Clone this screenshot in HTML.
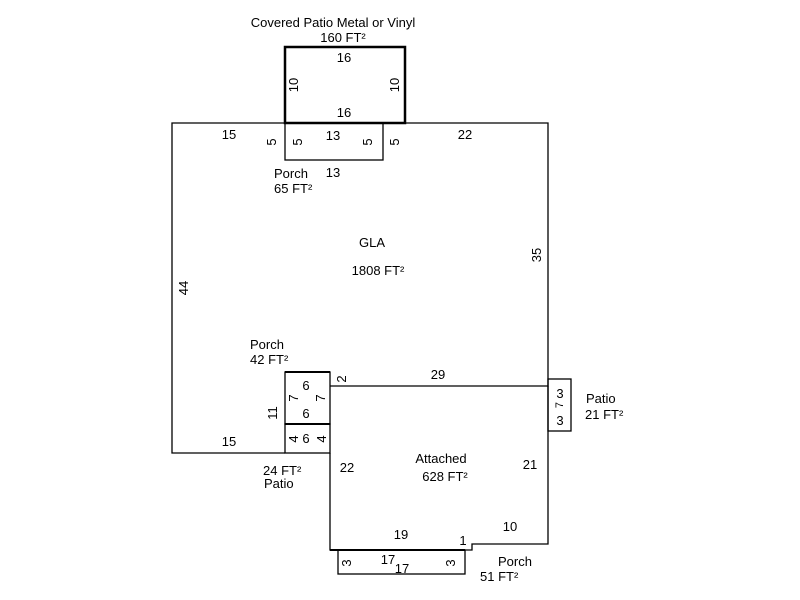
<!DOCTYPE html>
<html><head><meta charset="utf-8"><style>
html,body{margin:0;padding:0;background:#fff;}
svg{display:block;}
text{font-family:"Liberation Sans",Arial,sans-serif;font-size:13px;fill:#000;}
</style></head><body>
<svg width="800" height="600" viewBox="0 0 800 600" xmlns="http://www.w3.org/2000/svg">
<g fill="none" stroke="#000" stroke-width="1.3">
<polyline points="285,123 172,123 172,453 285,453"/>
<polyline points="405,123 548,123 548,386 330,386"/>
<rect x="285" y="123" width="98" height="37"/>
<rect x="285" y="372" width="45" height="52"/>
<rect x="285" y="424" width="45" height="29"/>
<polyline points="330,453 330,550 472,550 472,544 548,544 548,386"/>
<rect x="548" y="379" width="23" height="52"/>
<rect x="338" y="550" width="127" height="24"/>
</g>
<rect x="285" y="47" width="120" height="76" fill="none" stroke="#000" stroke-width="2.5"/>
<line x1="285" y1="372" x2="330" y2="372" stroke="#000" stroke-width="2"/>
<line x1="285" y1="424" x2="330" y2="424" stroke="#000" stroke-width="2"/>
<line x1="330" y1="550" x2="465" y2="550" stroke="#000" stroke-width="2"/>

<text x="333" y="27" text-anchor="middle">Covered Patio Metal or Vinyl</text>
<text x="343" y="42" text-anchor="middle">160 FT²</text>
<text x="344" y="62" text-anchor="middle">16</text>
<text x="344" y="117" text-anchor="middle">16</text>
<text transform="translate(298,85) rotate(-90)" text-anchor="middle">10</text>
<text transform="translate(399,85) rotate(-90)" text-anchor="middle">10</text>
<text x="229" y="139" text-anchor="middle">15</text>
<text x="465" y="139" text-anchor="middle">22</text>
<text x="333" y="140" text-anchor="middle">13</text>
<text x="333" y="177" text-anchor="middle">13</text>
<text transform="translate(276,142) rotate(-90)" text-anchor="middle">5</text>
<text transform="translate(302,142) rotate(-90)" text-anchor="middle">5</text>
<text transform="translate(372,142) rotate(-90)" text-anchor="middle">5</text>
<text transform="translate(399,142) rotate(-90)" text-anchor="middle">5</text>
<text x="274" y="178">Porch</text>
<text x="274" y="193">65 FT²</text>
<text x="372" y="247" text-anchor="middle">GLA</text>
<text x="378" y="275" text-anchor="middle">1808 FT²</text>
<text transform="translate(541,255) rotate(-90)" text-anchor="middle">35</text>
<text transform="translate(188,288) rotate(-90)" text-anchor="middle">44</text>
<text x="250" y="349">Porch</text>
<text x="250" y="364">42 FT²</text>
<text x="306" y="390" text-anchor="middle">6</text>
<text x="306" y="418" text-anchor="middle">6</text>
<text transform="translate(298,398) rotate(-90)" text-anchor="middle">7</text>
<text transform="translate(325,398) rotate(-90)" text-anchor="middle">7</text>
<text transform="translate(346,379) rotate(-90)" text-anchor="middle">2</text>
<text x="438" y="379" text-anchor="middle">29</text>
<text transform="translate(277,413) rotate(-90)" text-anchor="middle">11</text>
<text x="306" y="443" text-anchor="middle">6</text>
<text transform="translate(298,439) rotate(-90)" text-anchor="middle">4</text>
<text transform="translate(326,439) rotate(-90)" text-anchor="middle">4</text>
<text x="229" y="446" text-anchor="middle">15</text>
<text x="263" y="475">24 FT²</text>
<text x="264" y="488">Patio</text>
<text x="347" y="472" text-anchor="middle">22</text>
<text x="441" y="463" text-anchor="middle">Attached</text>
<text x="445" y="481" text-anchor="middle">628 FT²</text>
<text x="530" y="469" text-anchor="middle">21</text>
<text x="560" y="398" text-anchor="middle">3</text>
<text x="560" y="425" text-anchor="middle">3</text>
<text transform="translate(563,405) rotate(-90)" text-anchor="middle" style="font-size:11px">7</text>
<text x="586" y="403">Patio</text>
<text x="585" y="419">21 FT²</text>
<text x="401" y="539" text-anchor="middle">19</text>
<text x="463" y="545" text-anchor="middle">1</text>
<text x="510" y="531" text-anchor="middle">10</text>
<text x="388" y="564" text-anchor="middle">17</text>
<text x="402" y="573" text-anchor="middle">17</text>
<text transform="translate(351,563) rotate(-90)" text-anchor="middle">3</text>
<text transform="translate(455,563) rotate(-90)" text-anchor="middle">3</text>
<text x="498" y="566">Porch</text>
<text x="480" y="581">51 FT²</text>
</svg>
</body></html>
